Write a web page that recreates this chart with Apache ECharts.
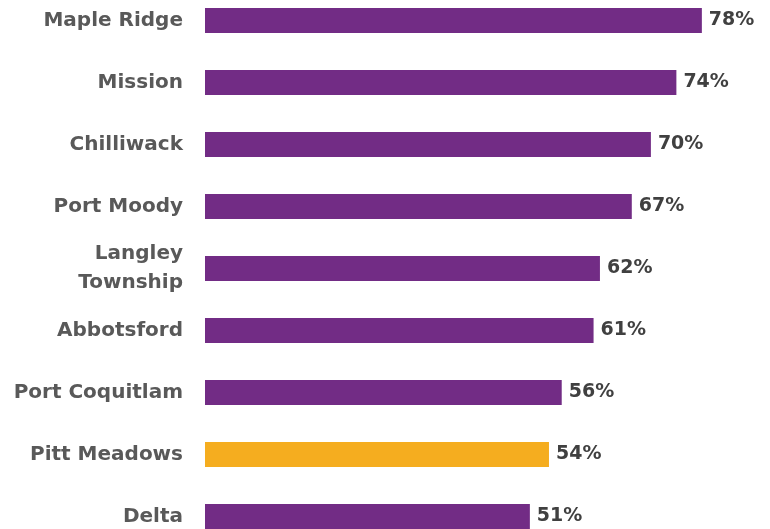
<!DOCTYPE html>
<html>
<head>
<meta charset="utf-8">
<script src="https://cdn.jsdelivr.net/npm/echarts@6/dist/echarts.min.js"></script>
<style>html,body{margin:0;padding:0;background:#fff}#c{width:770px;height:529px}</style>
</head>
<body>
<div id="c"></div>
<script>
const categories = ["Maple Ridge", "Mission", "Chilliwack", "Port Moody", "Langley\nTownship", "Abbotsford", "Port Coquitlam", "Pitt Meadows", "Delta"];
const values = [78, 74, 70, 67, 62, 61, 56, 54, 51];
const highlight = "Pitt Meadows";
const purple = "#722C85";
const gold = "#F5AD1F";

const chart = echarts.init(document.getElementById('c'));
chart.setOption({
  animation: false,
  grid: { left: 205, top: -10.5, width: 637, height: 558, containLabel: false, outerBoundsMode: 'none' },
  xAxis: { type: 'value', min: 0, max: 100, show: false },
  yAxis: {
    type: 'category', data: categories, inverse: true,
    axisLine: { show: false }, axisTick: { show: false },
    axisLabel: { margin: 22, color: '#595959', fontFamily: 'DejaVu Sans', fontWeight: 'bold', fontSize: 20, lineHeight: 29, padding: [3, 0, 0, 0] }
  },
  series: [{
    type: 'bar', barWidth: 25,
    data: values.map((v, i) => ({ value: v, itemStyle: { color: categories[i] === highlight ? gold : purple } })),
    label: { show: true, position: 'right', distance: 7, formatter: '{c}%', color: '#404040', fontFamily: 'DejaVu Sans', fontWeight: 'bold', fontSize: 19, padding: [2, 0, 0, 0] }
  }]
});
</script>
</body>
</html>
